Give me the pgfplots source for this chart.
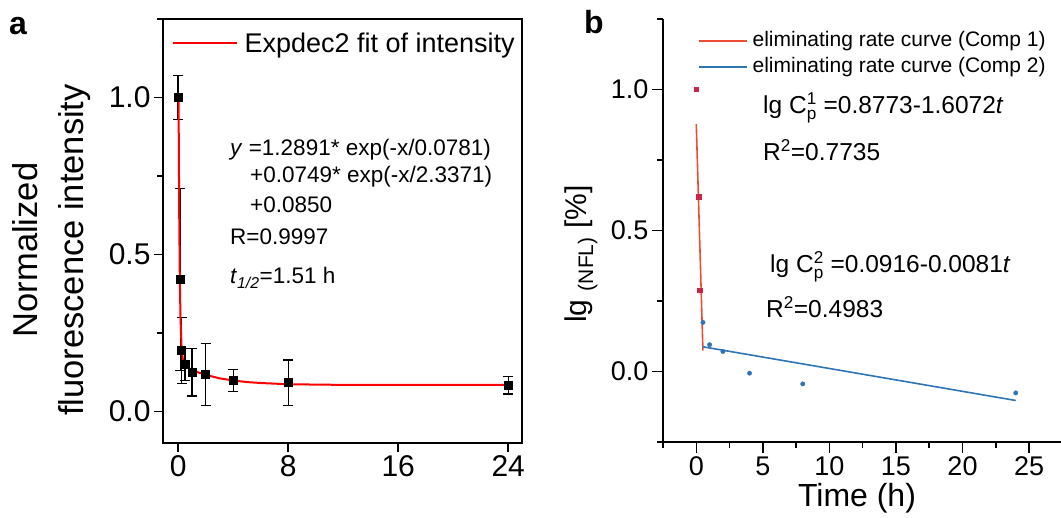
\documentclass[border=0pt]{standalone}
\usepackage{fontspec}
\setmainfont{Liberation Sans}
\usepackage{amsmath}
\usepackage{pgfplots}
\pgfplotsset{compat=1.18}
\definecolor{fitred}{RGB}{255,0,0}
\definecolor{compone}{RGB}{238,77,52}
\definecolor{ptone}{RGB}{205,35,70}
\definecolor{comptwo}{RGB}{47,117,182}

% normalized intensity: time, mean, sd
\pgfplotstableread{
t     y      err
0     1.000  0.070
0.17  0.420  0.290
0.25  0.195  0.105
0.5   0.150  0.050
1     0.125  0.075
2     0.118  0.098
4     0.099  0.036
8     0.092  0.072
24    0.084  0.028
}\intensity

% Expdec2 fit curve
\pgfplotstableread{
t     y
0.03  1.000
0.035 0.983
0.05  0.838
0.08  0.620
0.12  0.434
0.17  0.301
0.25  0.205
0.35  0.164
0.5   0.148
0.75  0.139
1     0.134
1.5   0.124
2     0.117
3     0.106
4     0.099
5     0.094
6     0.091
8     0.087
10    0.086
12    0.085
16    0.085
24    0.085
}\fitcurve

\pgfplotstableread{
t     lg
0     1.000
0.17  0.620
0.25  0.288
}\compAdata

\pgfplotstableread{
t     lg
0.5   0.174
1     0.095
2     0.071
4     -0.006
8     -0.044
24    -0.076
}\compBdata

\begin{document}
\begin{tikzpicture}[x=1pt,y=1pt]
\useasboundingbox (0,0) rectangle (1061,518);

\begin{axis}[
    at={(163pt,75pt)}, anchor=south west,
    scale only axis, width=359pt, height=424pt,
    xmin=-1.1, xmax=25, ymin=-0.1, ymax=1.25,
    xtick={0,8,16,24}, ytick={0,0.5,1}, minor ytick={0.25,0.75,1.25},
    tick pos=left, tick align=outside,
    major tick length=9pt, minor tick length=6pt,
    every tick/.style={black, line width=1.5pt},
    axis line style={line width=1.6pt},
    /pgf/number format/assume math mode=true,
    ticklabel style={font=\fontsize{30}{34}\selectfont},
    yticklabel style={/pgf/number format/.cd, fixed, fixed zerofill, precision=1},
    legend style={draw=none, fill=none, at={(0.015,0.943)}, anchor=west,
        font=\fontsize{27}{30}\selectfont,
        nodes={inner sep=0pt}},
    legend image code/.code={\draw[#1] (0pt,0pt) -- (64pt,0pt); \path (71pt,0pt);},
]
\addplot[only marks, black, mark=square*, mark size=4pt, forget plot,
    error bars/.cd, y dir=both, y explicit,
    error bar style={line width=1.3pt},
    error mark options={rotate=90, mark size=5pt, line width=1.3pt}]
    table[x=t, y=y, y error=err] {\intensity};
\addplot[fitred, line width=2pt] table[x=t, y=y] {\fitcurve};
\addlegendentry{Expdec2 fit of intensity}
\end{axis}

\begin{axis}[
    at={(663pt,76pt)}, anchor=south west,
    scale only axis, width=398pt, height=423pt,
    xmin=-2.5, xmax=27.4, ymin=-0.25, ymax=1.25,
    axis x line*=bottom, axis y line*=left,
    xtick={0,5,...,25}, minor xtick={-2.5,2.5,7.5,12.5,17.5,22.5},
    ytick={0,0.5,1}, minor ytick={-0.25,0.25,0.75,1.25},
    tick align=outside,
    major tick length=11pt, minor tick length=6pt,
    every tick/.style={black, line width=1.5pt},
    axis line style={line width=1.6pt, -},
    /pgf/number format/assume math mode=true,
    ticklabel style={font=\fontsize{27}{30}\selectfont},
    yticklabel style={/pgf/number format/.cd, fixed, fixed zerofill, precision=1},
    legend style={draw=none, fill=none, at={(0.08,0.917)}, anchor=west,
        font=\fontsize{21}{24}\selectfont,
        nodes={inner sep=0pt, text height=15pt, text depth=4pt},
        row sep=7pt},
    legend cell align=left,
    legend image code/.code={\draw[#1] (0pt,0pt) -- (48pt,0pt); \path (53pt,0pt);},
]
\addplot[only marks, ptone, mark=square*, mark size=2.2pt, forget plot]
    table[x=t, y=lg] {\compAdata};
\addplot[only marks, comptwo, mark=*, mark size=2.2pt, forget plot]
    table[x=t, y=lg] {\compBdata};
\addplot[compone, line width=1.6pt] coordinates {(0,0.8773) (0.5,0.0737)};
\addlegendentry{eliminating rate curve (Comp 1)}
\addplot[comptwo, line width=1.6pt] coordinates {(0.5,0.0876) (24,-0.1028)};
\addlegendentry{eliminating rate curve (Comp 2)}
\end{axis}

% panel a texts
\node[font=\fontsize{32}{36}\selectfont\bfseries] at (18,492) {a};
\node[rotate=90, align=center, font=\fontsize{34.5}{46}\selectfont] at (52,268)
    {Normalized\\fluorescence intensity};
\begin{scope}[every node/.style={anchor=west, inner sep=0pt, font=\fontsize{22.5}{26}\selectfont}]
\node at (230,368) {\textit{y} =1.2891* exp(-x/0.0781)};
\node at (250,341) {+0.0749* exp(-x/2.3371)};
\node at (250,313) {+0.0850};
\node at (230,281) {R=0.9997};
\node at (230,240) {\textit{t}$_{\textit{1/2}}$=1.51 h};
\end{scope}

% panel b texts
\node[font=\fontsize{32}{36}\selectfont\bfseries] at (594,496) {b};
\node[rotate=90, font=\fontsize{30}{34}\selectfont] at (581,264)
    {lg $_{\text{(NFL)}}$ [\%]};
\node[font=\fontsize{32}{36}\selectfont] at (857,20) {Time (h)};
\begin{scope}[every node/.style={anchor=west, inner sep=0pt, font=\fontsize{24.5}{28}\selectfont}]
\node at (763,410) {lg C$^{\text{1}}_{\text{p}}$ =0.8773-1.6072\textit{t}};
\node at (763,368) {R$^{\text{2}}$=0.7735};
\node at (770,251) {lg C$^{\text{2}}_{\text{p}}$ =0.0916-0.0081\textit{t}};
\node at (766,211) {R$^{\text{2}}$=0.4983};
\end{scope}
\end{tikzpicture}
\end{document}
